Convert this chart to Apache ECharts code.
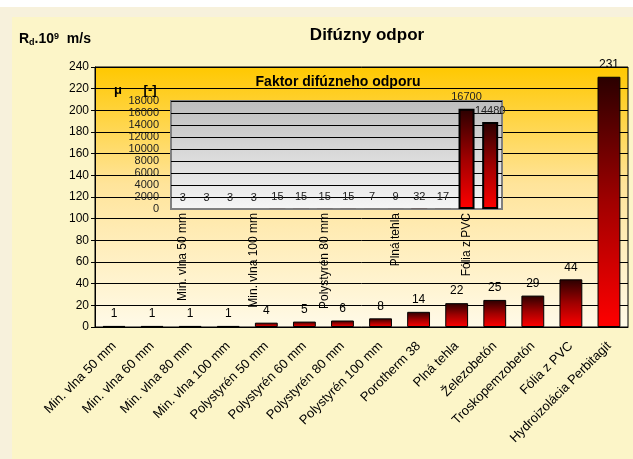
<!DOCTYPE html>
<html lang="sk">
<head>
    <meta charset="UTF-8">
    <title>Difúzny odpor</title>
    <script src="https://cdn.jsdelivr.net/npm/echarts@6/dist/echarts.min.js"></script>
    <style>
        html, body { margin: 0; padding: 0; background: #fff; }
    </style>
</head>
<body>
<div id="chartmain" style="width:633px; height:459px;"></div>
<script type="text/javascript">
    // materials (same order in both charts)
    var categories = ['Min. vlna 50 mm', 'Min. vlna 60 mm', 'Min. vlna 80 mm', 'Min. vlna 100 mm',
        'Polystyrén 50 mm', 'Polystyrén 60 mm', 'Polystyrén 80 mm', 'Polystyrén 100 mm',
        'Porotherm 38', 'Plná tehla', 'Železobetón', 'Troskopemzobetón', 'Fólia z PVC',
        'Hydroizolácia Perbitagit'];
    // diffusion resistance Rd.10^9 [m/s]
    var resistance = [1, 1, 1, 1, 4, 5, 6, 8, 14, 22, 25, 29, 44, 231];
    // diffusion resistance factor mu [-]
    var muFactor = [3, 3, 3, 3, 15, 15, 15, 15, 7, 9, 32, 17, 16700, 14480];
    var mainTicks = [0, 240, 20];
    var insetTicks = [0, 18000, 2000];

    var font = 'Liberation Sans, Arial, sans-serif';

    var barFill = new echarts.graphic.LinearGradient(0, 0, 0, 1, [
        {offset: 0, color: '#2a0000'},
        {offset: 0.5, color: '#a00000'},
        {offset: 1, color: '#ff0000'}
    ]);

    // tiny mu values are invisible at this scale, so no border for them
    var muData = muFactor.map(function (v) {
        return v < 100 ? {value: v, itemStyle: {borderWidth: 0}} : v;
    });

    var myChart = echarts.init(document.getElementById('chartmain'));
    myChart.setOption({
        backgroundColor: '#fcf5c8',
        animation: false,
        textStyle: {fontFamily: font},
        graphic: [
            {type: 'rect', z: -10, shape: {x: 0, y: 0, width: 633, height: 7}, style: {fill: '#ffffff'}},
            {type: 'rect', z: -10, shape: {x: 0, y: 7, width: 633, height: 10}, style: {fill: '#f7f1dc'}},
            {type: 'rect', z: -10, shape: {x: 0, y: 7, width: 12, height: 452}, style: {fill: '#f7f1dc'}}
        ],
        title: [
            {
                text: 'Difúzny odpor',
                left: 362, top: 22,
                textAlign: 'center',
                textStyle: {fontSize: 17, fontWeight: 'bold', color: '#000', fontFamily: font}
            },
            {
                text: 'R{sub|d}.10{sup|9}  m/s',
                left: 14, top: 27,
                textStyle: {
                    fontSize: 14, fontWeight: 'bold', color: '#000', fontFamily: font,
                    rich: {
                        sub: {fontSize: 9, fontWeight: 'bold', verticalAlign: 'bottom', padding: [6, 0, 0, 0]},
                        sup: {fontSize: 9, fontWeight: 'bold', verticalAlign: 'top', padding: [0, 0, 6, 0]}
                    }
                }
            },
            {
                text: 'Faktor difúzneho odporu',
                left: 333, top: 70,
                textAlign: 'center',
                textStyle: {fontSize: 14, fontWeight: 'bold', color: '#000', fontFamily: font}
            },
            {
                text: 'μ      [-]',
                left: 109, top: 79,
                textStyle: {fontSize: 13, fontWeight: 'bold', color: '#000', fontFamily: font}
            }
        ],
        grid: [
            {
                left: 95, right: 5, top: 67, bottom: 132,
                show: true, z: 0,
                borderWidth: 1, borderColor: '#000',
                backgroundColor: new echarts.graphic.LinearGradient(0, 0, 0, 1, [
                    {offset: 0, color: '#ffc800'},
                    {offset: 0.45, color: '#ffe49a'},
                    {offset: 1, color: '#fffae8'}
                ])
            },
            {
                left: 171, top: 101, width: 331, height: 108,
                show: true, z: 2,
                borderWidth: 2, borderColor: '#808080',
                backgroundColor: new echarts.graphic.LinearGradient(0, 0, 0, 1, [
                    {offset: 0, color: '#bdbdbd'},
                    {offset: 1, color: '#f6f6f6'}
                ])
            }
        ],
        xAxis: [
            {
                type: 'category', gridIndex: 0, z: 1,
                data: categories,
                axisLine: {lineStyle: {color: '#000', width: 1}},
                axisTick: {length: 5, lineStyle: {color: '#000'}},
                axisLabel: {interval: 0, rotate: 45, fontSize: 13, color: '#000', margin: 17}
            },
            {
                type: 'category', gridIndex: 1, z: 3,
                data: categories,
                axisLine: {lineStyle: {color: '#808080', width: 2}},
                axisTick: {length: 3, lineStyle: {color: '#808080'}},
                axisLabel: {interval: 2, rotate: 90, fontSize: 12, color: '#000', margin: 4}
            }
        ],
        yAxis: [
            {
                type: 'value', gridIndex: 0, z: 1,
                min: mainTicks[0], max: mainTicks[1], interval: mainTicks[2],
                axisLine: {show: true, lineStyle: {color: '#000'}},
                axisTick: {show: true, length: 4, lineStyle: {color: '#000'}},
                axisLabel: {fontSize: 12, color: '#000', margin: 6},
                splitLine: {lineStyle: {color: '#000', width: 1}}
            },
            {
                type: 'value', gridIndex: 1, z: 3,
                min: insetTicks[0], max: insetTicks[1], interval: insetTicks[2],
                axisLine: {show: false},
                axisTick: {show: false},
                axisLabel: {
                    fontSize: 11, color: '#222', margin: 12,
                    formatter: function (v) { return String(v); }
                },
                splitLine: {lineStyle: {color: '#000', width: 1}}
            }
        ],
        series: [
            {
                name: 'Rd',
                type: 'bar',
                xAxisIndex: 0, yAxisIndex: 0,
                data: resistance,
                barWidth: '60%',
                itemStyle: {color: barFill, borderColor: '#000', borderWidth: 1},
                label: {show: true, position: 'top', distance: 6, fontSize: 12, color: '#000'}
            },
            {
                name: 'mu',
                type: 'bar',
                xAxisIndex: 1, yAxisIndex: 1, z: 4,
                data: muData,
                barWidth: 16,
                itemStyle: {color: barFill, borderColor: '#000', borderWidth: 2},
                label: {show: true, position: 'top', distance: 6, fontSize: 11, color: '#222'}
            }
        ]
    });
</script>
</body>
</html>
